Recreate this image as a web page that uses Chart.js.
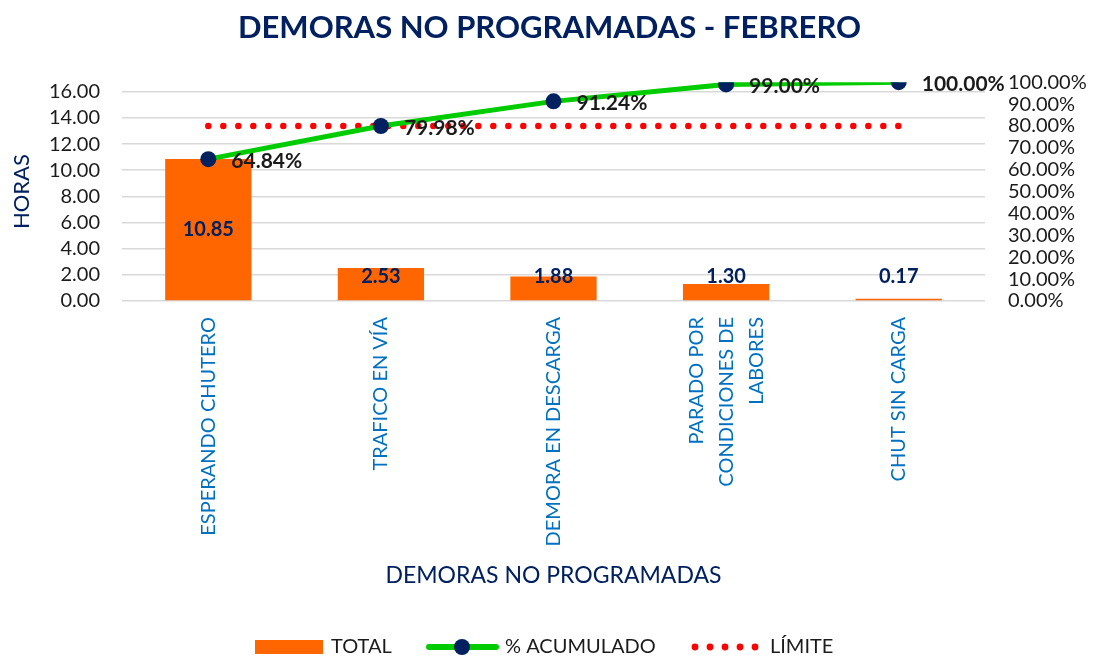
<!DOCTYPE html>
<html>
<head>
<meta charset="utf-8">
<script src="https://cdn.jsdelivr.net/npm/chart.js@4"></script>
<style>
    html, body { margin: 0; padding: 0; background: #fff; }
    #wrap { width: 1099px; height: 657px; }
</style>
</head>
<body>
<div id="wrap"><canvas id="pareto" width="1099" height="657"></canvas></div>
<script>
const categories = [
    'ESPERANDO CHUTERO',
    'TRAFICO EN VÍA',
    'DEMORA EN DESCARGA',
    ['PARADO POR', 'CONDICIONES DE', 'LABORES'],
    'CHUT SIN CARGA'
];
const totalHours = [10.85, 2.53, 1.88, 1.30, 0.17];
const cumulativePct = [64.84, 79.98, 91.24, 99.00, 100.00];
const limitPct = [80, 80, 80, 80, 80];

const NAVY = '#002060';
const ORANGE = '#FF6600';
const GREEN = '#00CC00';
const RED = '#FF0000';
const BLUE = '#0070C0';
const INK = '#1b1b1b';
const FONT = 'Lato';

// left axis tops out at the total hours so 100% lines up with the sum
const hoursMax = totalHours.reduce((a, b) => a + b, 0);

// value labels on bars and cumulative points
const valueLabels = {
    id: 'valueLabels',
    afterDatasetsDraw(chart) {
        const { ctx } = chart;
        ctx.save();
        chart.data.datasets.forEach((ds, di) => {
            const meta = chart.getDatasetMeta(di);
            if (ds.label === 'TOTAL') {
                ctx.font = `bold 20px ${FONT}`;
                ctx.fillStyle = NAVY;
                ctx.textAlign = 'center';
                ctx.textBaseline = 'middle';
                meta.data.forEach((bar, i) => {
                    const mid = (bar.y + bar.base) / 2;
                    const y = Math.min(mid, bar.base - 24);
                    ctx.fillText(ds.data[i].toFixed(2), bar.x, y);
                });
            } else if (ds.label === '% ACUMULADO') {
                ctx.font = `bold 21px ${FONT}`;
                ctx.fillStyle = INK;
                ctx.textAlign = 'left';
                ctx.textBaseline = 'middle';
                meta.data.forEach((pt, i) => {
                    ctx.fillText(ds.data[i].toFixed(2) + '%', pt.x + 23, pt.y + 2);
                });
            }
        });
        ctx.restore();
    }
};

// vertical category names under the bars, multi-line names centred on the bar
const categoryLabels = {
    id: 'categoryLabels',
    afterDraw(chart) {
        const { ctx } = chart;
        const x = chart.scales.x;
        const top = chart.chartArea.bottom + 16;
        ctx.save();
        ctx.font = `20px ${FONT}`;
        ctx.fillStyle = BLUE;
        ctx.textAlign = 'right';
        ctx.textBaseline = 'middle';
        chart.data.labels.forEach((label, i) => {
            const lines = Array.isArray(label) ? label : [label];
            const cx = x.getPixelForTick(i);
            lines.forEach((line, j) => {
                const off = (j - (lines.length - 1) / 2) * 30;
                ctx.save();
                ctx.translate(cx + off, top);
                ctx.rotate(-Math.PI / 2);
                ctx.fillText(line, 0, 0);
                ctx.restore();
            });
        });
        ctx.restore();
    }
};

// legend row along the bottom
const bottomLegend = {
    id: 'bottomLegend',
    afterDraw(chart) {
        const { ctx } = chart;
        const y = 647;
        ctx.save();
        ctx.font = `20px ${FONT}`;
        ctx.textAlign = 'left';
        ctx.textBaseline = 'middle';

        ctx.fillStyle = ORANGE;
        ctx.fillRect(255, y - 7, 68, 14);
        ctx.fillStyle = INK;
        ctx.fillText('TOTAL', 331, y);

        ctx.strokeStyle = GREEN;
        ctx.lineWidth = 6;
        ctx.lineCap = 'round';
        ctx.beginPath();
        ctx.moveTo(429, y);
        ctx.lineTo(496, y);
        ctx.stroke();
        ctx.fillStyle = NAVY;
        ctx.beginPath();
        ctx.arc(462, y, 8, 0, Math.PI * 2);
        ctx.fill();
        ctx.fillStyle = INK;
        ctx.fillText('% ACUMULADO', 505, y);

        ctx.fillStyle = RED;
        for (let k = 0; k < 5; k++) {
            ctx.beginPath();
            ctx.arc(695 + k * 15, y, 3.4, 0, Math.PI * 2);
            ctx.fill();
        }
        ctx.fillStyle = INK;
        ctx.fillText('LÍMITE', 770, y);
        ctx.restore();
    }
};

const ctx = document.getElementById('pareto').getContext('2d');

new Chart(ctx, {
    data: {
        labels: categories,
        datasets: [
            {
                type: 'bar',
                label: 'TOTAL',
                data: totalHours,
                backgroundColor: ORANGE,
                barPercentage: 0.5,
                categoryPercentage: 1.0,
                yAxisID: 'y',
                order: 3
            },
            {
                type: 'line',
                label: 'LÍMITE',
                data: limitPct,
                borderColor: RED,
                borderWidth: 6.5,
                borderDash: [0, 15],
                borderCapStyle: 'round',
                pointRadius: 0,
                yAxisID: 'y1',
                order: 2
            },
            {
                type: 'line',
                label: '% ACUMULADO',
                data: cumulativePct,
                borderColor: GREEN,
                borderWidth: 5,
                pointRadius: 8,
                pointBackgroundColor: NAVY,
                pointBorderColor: NAVY,
                pointBorderWidth: 0,
                yAxisID: 'y1',
                order: 1
            }
        ]
    },
    options: {
        responsive: false,
        animation: false,
        layout: { padding: { left: 0, right: 0, top: 0, bottom: 40 } },
        plugins: {
            legend: { display: false },
            tooltip: { enabled: false },
            title: {
                display: true,
                text: 'DEMORAS NO PROGRAMADAS - FEBRERO',
                color: NAVY,
                font: { family: FONT, size: 31, weight: 'bold' },
                padding: { top: 9, bottom: 36 }
            }
        },
        scales: {
            x: {
                grid: { display: false },
                border: { display: false },
                ticks: { display: false },
                title: {
                    display: true,
                    text: 'DEMORAS NO PROGRAMADAS',
                    color: NAVY,
                    font: { family: FONT, size: 23 },
                    padding: { top: 0, bottom: 28 }
                },
                afterFit(scale) { scale.height = 316; }
            },
            y: {
                position: 'left',
                min: 0,
                max: hoursMax,
                grid: { color: '#D9D9D9', lineWidth: 1.5, drawTicks: false },
                border: { display: false },
                ticks: {
                    stepSize: 2,
                    includeBounds: false,
                    autoSkip: false,
                    padding: 22,
                    color: INK,
                    font: { family: FONT, size: 20 },
                    callback: v => v.toFixed(2)
                },
                title: {
                    display: true,
                    text: 'HORAS',
                    color: NAVY,
                    font: { family: FONT, size: 22 },
                    padding: { top: 9, bottom: 0 }
                },
                afterFit(scale) { scale.width = 122; }
            },
            y1: {
                position: 'right',
                min: 0,
                max: 100,
                grid: { display: false, drawTicks: false },
                border: { display: false },
                ticks: {
                    stepSize: 10,
                    autoSkip: false,
                    padding: 23,
                    color: INK,
                    font: { family: FONT, size: 20 },
                    callback: v => v.toFixed(2) + '%'
                },
                afterFit(scale) { scale.width = 114; }
            }
        }
    },
    plugins: [valueLabels, categoryLabels, bottomLegend]
});
</script>
</body>
</html>
